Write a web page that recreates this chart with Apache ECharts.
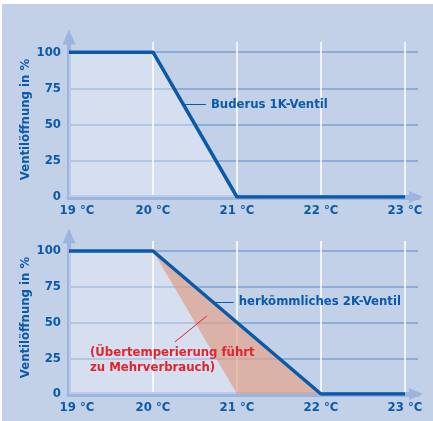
<!DOCTYPE html>
<html>
<head>
<meta charset="utf-8">
<script src="https://cdn.jsdelivr.net/npm/echarts@6/dist/echarts.min.js"></script>
<style>
html, body { margin: 0; padding: 0; background: #fff; }
#chart { position: absolute; left: 2px; top: 4px; width: 431px; height: 417px; }
</style>
</head>
<body>
<div id="chart"></div>
<script>
// data
const temps = [19, 20, 21, 22, 23];
const valve1K = [100, 100, 0, 0, 0];
const valve2K = [100, 100, 50, 0, 0];
const yTicks = [0, 25, 50, 75, 100];
const xUnit = ' °C';
const yName = 'Ventilöffnung in %';
const label1K = 'Buderus 1K-Ventil';
const label2K = 'herkömmliches 2K-Ventil';
const noteText = '(Übertemperierung führt\nzu Mehrverbrauch)';

const FONT = "'DejaVu Sans Condensed', 'DejaVu Sans', sans-serif";
const BLUE = '#0b5aa9';
const AXIS = '#9bb5df';
const GRIDLINE = '#7c9fd3';
const RED = '#e2222c';

const pts = (xs, ys) => xs.map((x, i) => [x, ys[i]]);
// rows of [temp, 1K, 2K] for the band between both valves
const band = temps.map((t, i) => [t, valve1K[i], valve2K[i]]);

const chart = echarts.init(document.getElementById('chart'));

function xAxisFor(gridIndex) {
	return {
		type: 'value',
		gridIndex,
		min: 19,
		max: 23.155,
		interval: 1,
		axisLine: {
			show: true,
			onZero: false,
			symbol: ['none', 'triangle'],
			symbolSize: [12, 14],
			symbolOffset: [0, -2],
			lineStyle: { color: AXIS, width: 5 },
		},
		axisTick: { show: false },
		axisLabel: {
			margin: 7,
			fontFamily: FONT,
			fontWeight: 'bold',
			fontSize: 13,
			color: BLUE,
			formatter: (v) => {
				if (!temps.includes(v)) return '';
				if (v === temps[0]) return '{first|' + v + xUnit + '}';
				return v + xUnit;
			},
			rich: {
				first: {
					fontFamily: FONT, fontWeight: 'bold', fontSize: 13, color: BLUE,
					padding: [0, 0, 0, 16],
				},
			},
		},
		splitLine: {
			show: true,
			showMinLine: false,
			showMaxLine: false,
			lineStyle: { color: '#ffffff', width: 1.5 },
		},
	};
}

function yAxisFor(gridIndex) {
	return {
		type: 'value',
		gridIndex,
		min: 0,
		max: 107,
		interval: 25,
		name: yName,
		nameLocation: 'middle',
		nameGap: 37,
		nameMoveOverlap: false,
		nameTextStyle: { fontFamily: FONT, fontWeight: 'bold', fontSize: 13, color: BLUE },
		axisLine: {
			show: true,
			onZero: false,
			symbol: ['none', 'triangle'],
			symbolSize: [13, 15],
			symbolOffset: [0, 5],
			lineStyle: { color: AXIS, width: 4 },
		},
		axisTick: { show: false },
		axisLabel: {
			margin: 8,
			fontFamily: FONT,
			fontWeight: 'bold',
			fontSize: 13,
			color: BLUE,
			formatter: (v) => (yTicks.includes(v) ? String(v) : ''),
		},
		splitLine: {
			show: true,
			showMinLine: false,
			showMaxLine: false,
			lineStyle: { color: GRIDLINE, width: 1.5 },
		},
	};
}

const leaderLabel = (text, color) => ({
	show: true,
	position: 'end',
	distance: 5,
	formatter: text,
	fontFamily: FONT,
	fontWeight: 'bold',
	fontSize: 13,
	color,
});

// one polygon between the 1K and the 2K curve
function renderBand(params, api) {
	if (params.dataIndex !== 0) return null;
	const upper = band.map((r) => api.coord([r[0], r[2]]));
	const lower = band.map((r) => api.coord([r[0], r[1]])).reverse();
	return {
		type: 'polygon',
		shape: { points: upper.concat(lower) },
		style: { fill: 'rgba(229,165,141,0.7)' },
	};
}

const option = {
	backgroundColor: '#c3d1e8',
	animation: false,
	grid: [
		{ left: 67, top: 38, width: 349, height: 155 },
		{ left: 67, top: 237, width: 349, height: 153 },
	],
	xAxis: [xAxisFor(0), xAxisFor(1)],
	yAxis: [yAxisFor(0), yAxisFor(1)],
	series: [
		{
			name: '1K',
			type: 'line',
			xAxisIndex: 0,
			yAxisIndex: 0,
			data: pts(temps, valve1K),
			symbol: 'none',
			lineStyle: { color: BLUE, width: 3.5 },
			areaStyle: { color: 'rgba(255,255,255,0.45)' },
			markLine: {
				silent: true,
				symbol: ['none', 'none'],
				lineStyle: { color: BLUE, width: 1, type: 'solid' },
				data: [[
					{ coord: [20.38, 64], label: leaderLabel(label1K, BLUE) },
					{ coord: [20.63, 64] },
				]],
			},
		},
		{
			name: '1K bottom',
			type: 'line',
			xAxisIndex: 1,
			yAxisIndex: 1,
			data: pts(temps, valve1K),
			symbol: 'none',
			lineStyle: { width: 0 },
			areaStyle: { color: 'rgba(255,255,255,0.45)' },
		},
		{
			name: 'Mehrverbrauch',
			type: 'custom',
			xAxisIndex: 1,
			yAxisIndex: 1,
			data: band,
			encode: { x: 0, y: [1, 2] },
			renderItem: renderBand,
			silent: true,
		},
		{
			name: '2K',
			type: 'line',
			xAxisIndex: 1,
			yAxisIndex: 1,
			data: pts(temps, valve2K),
			symbol: 'none',
			lineStyle: { color: BLUE, width: 3.5 },
			markLine: {
				silent: true,
				symbol: ['none', 'none'],
				data: [
					[
						{ coord: [20.73, 64.3], lineStyle: { color: BLUE, width: 1, type: 'solid' }, label: leaderLabel(label2K, BLUE) },
						{ coord: [20.96, 64.3] },
					],
					[
						{ coord: [20.64, 54.5], lineStyle: { color: RED, width: 1, type: 'solid' }, label: { show: false } },
						{ coord: [20.26, 36.4] },
					],
				],
			},
			markPoint: {
				silent: true,
				symbol: 'circle',
				symbolSize: 0,
				data: [{
					coord: [19.25, 23.4],
					label: {
						show: true,
						position: 'right',
						distance: 0,
						align: 'left',
						formatter: noteText,
						fontFamily: FONT,
						fontWeight: 'bold',
						fontSize: 13,
						lineHeight: 15,
						color: RED,
					},
				}],
			},
		},
	],
};

chart.setOption(option);
</script>
</body>
</html>
